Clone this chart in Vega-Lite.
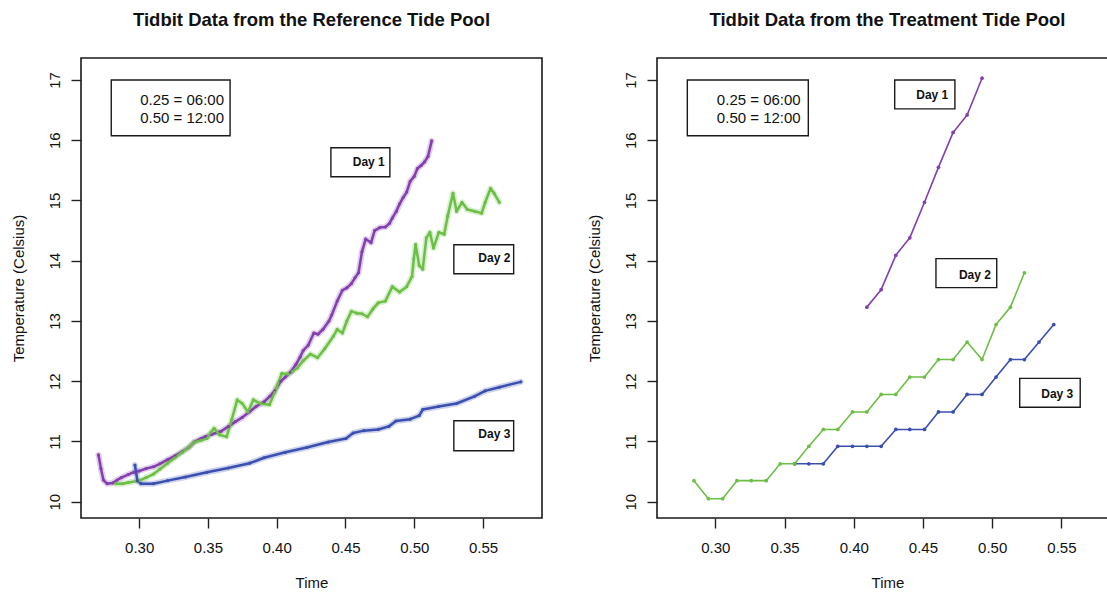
{
  "$schema": "https://vega.github.io/schema/vega-lite/v6.json",
  "padding": {"left": 10, "top": 10, "right": 0, "bottom": 0},
  "spacing": 43,
  "config": {
    "font": "Liberation Sans",
    "view": {"stroke": "#1a1a1a", "strokeWidth": 1.6},
    "axis": {
      "domain": false, "grid": false, "tickColor": "#222222", "tickSize": 10, "tickWidth": 1.4,
      "labelFont": "Liberation Sans", "labelFontSize": 15, "labelColor": "#111111",
      "labelFlush": false, "labelOverlap": false, "labelBound": false,
      "titleFont": "Liberation Sans", "titleFontSize": 15, "titleFontWeight": "normal", "titleColor": "#111111"
    },
    "title": {"font": "Liberation Sans", "fontSize": 18.5, "fontWeight": "bold", "color": "#111111", "anchor": "middle", "baseline": "alphabetic", "offset": 28.5}
  },
  "datasets": {
    "series": [
      {"panel":"ref","day":"Day 1","x":0.2704,"y":10.78},
      {"panel":"ref","day":"Day 1","x":0.2722,"y":10.55},
      {"panel":"ref","day":"Day 1","x":0.2740,"y":10.36},
      {"panel":"ref","day":"Day 1","x":0.2767,"y":10.30},
      {"panel":"ref","day":"Day 1","x":0.2806,"y":10.31},
      {"panel":"ref","day":"Day 1","x":0.2840,"y":10.36},
      {"panel":"ref","day":"Day 1","x":0.2870,"y":10.40},
      {"panel":"ref","day":"Day 1","x":0.2920,"y":10.45},
      {"panel":"ref","day":"Day 1","x":0.2960,"y":10.49},
      {"panel":"ref","day":"Day 1","x":0.3000,"y":10.51},
      {"panel":"ref","day":"Day 1","x":0.3050,"y":10.55},
      {"panel":"ref","day":"Day 1","x":0.3104,"y":10.58},
      {"panel":"ref","day":"Day 1","x":0.3150,"y":10.63},
      {"panel":"ref","day":"Day 1","x":0.3207,"y":10.70},
      {"panel":"ref","day":"Day 1","x":0.3260,"y":10.76},
      {"panel":"ref","day":"Day 1","x":0.3311,"y":10.83},
      {"panel":"ref","day":"Day 1","x":0.3360,"y":10.90},
      {"panel":"ref","day":"Day 1","x":0.3400,"y":10.99},
      {"panel":"ref","day":"Day 1","x":0.3450,"y":11.05},
      {"panel":"ref","day":"Day 1","x":0.3480,"y":11.08},
      {"panel":"ref","day":"Day 1","x":0.3530,"y":11.12},
      {"panel":"ref","day":"Day 1","x":0.3596,"y":11.17},
      {"panel":"ref","day":"Day 1","x":0.3650,"y":11.25},
      {"panel":"ref","day":"Day 1","x":0.3700,"y":11.33},
      {"panel":"ref","day":"Day 1","x":0.3750,"y":11.40},
      {"panel":"ref","day":"Day 1","x":0.3800,"y":11.49},
      {"panel":"ref","day":"Day 1","x":0.3850,"y":11.58},
      {"panel":"ref","day":"Day 1","x":0.3908,"y":11.66},
      {"panel":"ref","day":"Day 1","x":0.3950,"y":11.75},
      {"panel":"ref","day":"Day 1","x":0.3985,"y":11.84},
      {"panel":"ref","day":"Day 1","x":0.4030,"y":12.00},
      {"panel":"ref","day":"Day 1","x":0.4063,"y":12.07},
      {"panel":"ref","day":"Day 1","x":0.4100,"y":12.15},
      {"panel":"ref","day":"Day 1","x":0.4140,"y":12.28},
      {"panel":"ref","day":"Day 1","x":0.4170,"y":12.40},
      {"panel":"ref","day":"Day 1","x":0.4193,"y":12.51},
      {"panel":"ref","day":"Day 1","x":0.4230,"y":12.60},
      {"panel":"ref","day":"Day 1","x":0.4270,"y":12.80},
      {"panel":"ref","day":"Day 1","x":0.4300,"y":12.78},
      {"panel":"ref","day":"Day 1","x":0.4336,"y":12.86},
      {"panel":"ref","day":"Day 1","x":0.4380,"y":13.00},
      {"panel":"ref","day":"Day 1","x":0.4400,"y":13.10},
      {"panel":"ref","day":"Day 1","x":0.4440,"y":13.33},
      {"panel":"ref","day":"Day 1","x":0.4478,"y":13.51},
      {"panel":"ref","day":"Day 1","x":0.4510,"y":13.55},
      {"panel":"ref","day":"Day 1","x":0.4543,"y":13.62},
      {"panel":"ref","day":"Day 1","x":0.4570,"y":13.72},
      {"panel":"ref","day":"Day 1","x":0.4595,"y":13.80},
      {"panel":"ref","day":"Day 1","x":0.4620,"y":14.15},
      {"panel":"ref","day":"Day 1","x":0.4647,"y":14.36},
      {"panel":"ref","day":"Day 1","x":0.4686,"y":14.30},
      {"panel":"ref","day":"Day 1","x":0.4712,"y":14.50},
      {"panel":"ref","day":"Day 1","x":0.4750,"y":14.55},
      {"panel":"ref","day":"Day 1","x":0.4790,"y":14.56},
      {"panel":"ref","day":"Day 1","x":0.4820,"y":14.62},
      {"panel":"ref","day":"Day 1","x":0.4841,"y":14.71},
      {"panel":"ref","day":"Day 1","x":0.4870,"y":14.82},
      {"panel":"ref","day":"Day 1","x":0.4893,"y":14.94},
      {"panel":"ref","day":"Day 1","x":0.4920,"y":15.05},
      {"panel":"ref","day":"Day 1","x":0.4945,"y":15.14},
      {"panel":"ref","day":"Day 1","x":0.4971,"y":15.32},
      {"panel":"ref","day":"Day 1","x":0.5000,"y":15.40},
      {"panel":"ref","day":"Day 1","x":0.5023,"y":15.53},
      {"panel":"ref","day":"Day 1","x":0.5050,"y":15.58},
      {"panel":"ref","day":"Day 1","x":0.5075,"y":15.64},
      {"panel":"ref","day":"Day 1","x":0.5100,"y":15.73},
      {"panel":"ref","day":"Day 1","x":0.5127,"y":15.99},

      {"panel":"ref","day":"Day 2","x":0.2831,"y":10.30},
      {"panel":"ref","day":"Day 2","x":0.2880,"y":10.30},
      {"panel":"ref","day":"Day 2","x":0.2922,"y":10.32},
      {"panel":"ref","day":"Day 2","x":0.3000,"y":10.35},
      {"panel":"ref","day":"Day 2","x":0.3050,"y":10.40},
      {"panel":"ref","day":"Day 2","x":0.3104,"y":10.46},
      {"panel":"ref","day":"Day 2","x":0.3150,"y":10.54},
      {"panel":"ref","day":"Day 2","x":0.3207,"y":10.64},
      {"panel":"ref","day":"Day 2","x":0.3260,"y":10.73},
      {"panel":"ref","day":"Day 2","x":0.3311,"y":10.82},
      {"panel":"ref","day":"Day 2","x":0.3360,"y":10.90},
      {"panel":"ref","day":"Day 2","x":0.3400,"y":10.99},
      {"panel":"ref","day":"Day 2","x":0.3450,"y":11.02},
      {"panel":"ref","day":"Day 2","x":0.3493,"y":11.05},
      {"panel":"ref","day":"Day 2","x":0.3520,"y":11.15},
      {"panel":"ref","day":"Day 2","x":0.3545,"y":11.22},
      {"panel":"ref","day":"Day 2","x":0.3584,"y":11.11},
      {"panel":"ref","day":"Day 2","x":0.3636,"y":11.08},
      {"panel":"ref","day":"Day 2","x":0.3674,"y":11.37},
      {"panel":"ref","day":"Day 2","x":0.3713,"y":11.69},
      {"panel":"ref","day":"Day 2","x":0.3750,"y":11.63},
      {"panel":"ref","day":"Day 2","x":0.3791,"y":11.49},
      {"panel":"ref","day":"Day 2","x":0.3830,"y":11.69},
      {"panel":"ref","day":"Day 2","x":0.3882,"y":11.63},
      {"panel":"ref","day":"Day 2","x":0.3947,"y":11.61},
      {"panel":"ref","day":"Day 2","x":0.3985,"y":11.81},
      {"panel":"ref","day":"Day 2","x":0.4037,"y":12.13},
      {"panel":"ref","day":"Day 2","x":0.4080,"y":12.12},
      {"panel":"ref","day":"Day 2","x":0.4115,"y":12.16},
      {"panel":"ref","day":"Day 2","x":0.4150,"y":12.22},
      {"panel":"ref","day":"Day 2","x":0.4193,"y":12.34},
      {"panel":"ref","day":"Day 2","x":0.4245,"y":12.45},
      {"panel":"ref","day":"Day 2","x":0.4297,"y":12.39},
      {"panel":"ref","day":"Day 2","x":0.4349,"y":12.54},
      {"panel":"ref","day":"Day 2","x":0.4413,"y":12.75},
      {"panel":"ref","day":"Day 2","x":0.4440,"y":12.86},
      {"panel":"ref","day":"Day 2","x":0.4478,"y":12.80},
      {"panel":"ref","day":"Day 2","x":0.4510,"y":13.00},
      {"panel":"ref","day":"Day 2","x":0.4543,"y":13.16},
      {"panel":"ref","day":"Day 2","x":0.4582,"y":13.13},
      {"panel":"ref","day":"Day 2","x":0.4620,"y":13.12},
      {"panel":"ref","day":"Day 2","x":0.4660,"y":13.07},
      {"panel":"ref","day":"Day 2","x":0.4700,"y":13.20},
      {"panel":"ref","day":"Day 2","x":0.4738,"y":13.30},
      {"panel":"ref","day":"Day 2","x":0.4790,"y":13.33},
      {"panel":"ref","day":"Day 2","x":0.4841,"y":13.57},
      {"panel":"ref","day":"Day 2","x":0.4893,"y":13.48},
      {"panel":"ref","day":"Day 2","x":0.4945,"y":13.57},
      {"panel":"ref","day":"Day 2","x":0.4984,"y":13.74},
      {"panel":"ref","day":"Day 2","x":0.4997,"y":14.03},
      {"panel":"ref","day":"Day 2","x":0.5010,"y":14.27},
      {"panel":"ref","day":"Day 2","x":0.5036,"y":13.92},
      {"panel":"ref","day":"Day 2","x":0.5062,"y":13.86},
      {"panel":"ref","day":"Day 2","x":0.5088,"y":14.38},
      {"panel":"ref","day":"Day 2","x":0.5114,"y":14.47},
      {"panel":"ref","day":"Day 2","x":0.5140,"y":14.21},
      {"panel":"ref","day":"Day 2","x":0.5179,"y":14.47},
      {"panel":"ref","day":"Day 2","x":0.5218,"y":14.44},
      {"panel":"ref","day":"Day 2","x":0.5243,"y":14.74},
      {"panel":"ref","day":"Day 2","x":0.5282,"y":15.12},
      {"panel":"ref","day":"Day 2","x":0.5308,"y":14.82},
      {"panel":"ref","day":"Day 2","x":0.5347,"y":14.97},
      {"panel":"ref","day":"Day 2","x":0.5386,"y":14.85},
      {"panel":"ref","day":"Day 2","x":0.5438,"y":14.82},
      {"panel":"ref","day":"Day 2","x":0.5490,"y":14.79},
      {"panel":"ref","day":"Day 2","x":0.5516,"y":14.97},
      {"panel":"ref","day":"Day 2","x":0.5555,"y":15.20},
      {"panel":"ref","day":"Day 2","x":0.5581,"y":15.12},
      {"panel":"ref","day":"Day 2","x":0.5619,"y":14.97},

      {"panel":"ref","day":"Day 3","x":0.2969,"y":10.61},
      {"panel":"ref","day":"Day 3","x":0.2987,"y":10.35},
      {"panel":"ref","day":"Day 3","x":0.3013,"y":10.30},
      {"panel":"ref","day":"Day 3","x":0.3104,"y":10.30},
      {"panel":"ref","day":"Day 3","x":0.3207,"y":10.35},
      {"panel":"ref","day":"Day 3","x":0.3337,"y":10.41},
      {"panel":"ref","day":"Day 3","x":0.3493,"y":10.49},
      {"panel":"ref","day":"Day 3","x":0.3648,"y":10.56},
      {"panel":"ref","day":"Day 3","x":0.3804,"y":10.64},
      {"panel":"ref","day":"Day 3","x":0.3908,"y":10.73},
      {"panel":"ref","day":"Day 3","x":0.4063,"y":10.82},
      {"panel":"ref","day":"Day 3","x":0.4219,"y":10.90},
      {"panel":"ref","day":"Day 3","x":0.4375,"y":10.99},
      {"panel":"ref","day":"Day 3","x":0.4504,"y":11.05},
      {"panel":"ref","day":"Day 3","x":0.4556,"y":11.14},
      {"panel":"ref","day":"Day 3","x":0.4634,"y":11.18},
      {"panel":"ref","day":"Day 3","x":0.4738,"y":11.20},
      {"panel":"ref","day":"Day 3","x":0.4815,"y":11.25},
      {"panel":"ref","day":"Day 3","x":0.4867,"y":11.34},
      {"panel":"ref","day":"Day 3","x":0.4971,"y":11.37},
      {"panel":"ref","day":"Day 3","x":0.5036,"y":11.43},
      {"panel":"ref","day":"Day 3","x":0.5062,"y":11.53},
      {"panel":"ref","day":"Day 3","x":0.5178,"y":11.58},
      {"panel":"ref","day":"Day 3","x":0.5308,"y":11.63},
      {"panel":"ref","day":"Day 3","x":0.5438,"y":11.75},
      {"panel":"ref","day":"Day 3","x":0.5516,"y":11.84},
      {"panel":"ref","day":"Day 3","x":0.5619,"y":11.90},
      {"panel":"ref","day":"Day 3","x":0.5775,"y":11.99},

      {"panel":"trt","day":"Day 1","x":0.4095,"y":13.23},
      {"panel":"trt","day":"Day 1","x":0.4198,"y":13.52},
      {"panel":"trt","day":"Day 1","x":0.4304,"y":14.09},
      {"panel":"trt","day":"Day 1","x":0.4405,"y":14.38},
      {"panel":"trt","day":"Day 1","x":0.4511,"y":14.97},
      {"panel":"trt","day":"Day 1","x":0.4612,"y":15.55},
      {"panel":"trt","day":"Day 1","x":0.4718,"y":16.13},
      {"panel":"trt","day":"Day 1","x":0.4819,"y":16.42},
      {"panel":"trt","day":"Day 1","x":0.4927,"y":17.03},

      {"panel":"trt","day":"Day 3","x":0.3573,"y":10.63},
      {"panel":"trt","day":"Day 3","x":0.3676,"y":10.63},
      {"panel":"trt","day":"Day 3","x":0.3780,"y":10.63},
      {"panel":"trt","day":"Day 3","x":0.3885,"y":10.92},
      {"panel":"trt","day":"Day 3","x":0.3991,"y":10.92},
      {"panel":"trt","day":"Day 3","x":0.4095,"y":10.92},
      {"panel":"trt","day":"Day 3","x":0.4198,"y":10.92},
      {"panel":"trt","day":"Day 3","x":0.4304,"y":11.20},
      {"panel":"trt","day":"Day 3","x":0.4405,"y":11.20},
      {"panel":"trt","day":"Day 3","x":0.4511,"y":11.20},
      {"panel":"trt","day":"Day 3","x":0.4612,"y":11.49},
      {"panel":"trt","day":"Day 3","x":0.4718,"y":11.49},
      {"panel":"trt","day":"Day 3","x":0.4819,"y":11.78},
      {"panel":"trt","day":"Day 3","x":0.4927,"y":11.78},
      {"panel":"trt","day":"Day 3","x":0.5028,"y":12.07},
      {"panel":"trt","day":"Day 3","x":0.5132,"y":12.36},
      {"panel":"trt","day":"Day 3","x":0.5233,"y":12.36},
      {"panel":"trt","day":"Day 3","x":0.5339,"y":12.65},
      {"panel":"trt","day":"Day 3","x":0.5445,"y":12.94},

      {"panel":"trt","day":"Day 2","x":0.2846,"y":10.35},
      {"panel":"trt","day":"Day 2","x":0.2950,"y":10.05},
      {"panel":"trt","day":"Day 2","x":0.3053,"y":10.05},
      {"panel":"trt","day":"Day 2","x":0.3156,"y":10.35},
      {"panel":"trt","day":"Day 2","x":0.3260,"y":10.35},
      {"panel":"trt","day":"Day 2","x":0.3368,"y":10.35},
      {"panel":"trt","day":"Day 2","x":0.3469,"y":10.63},
      {"panel":"trt","day":"Day 2","x":0.3573,"y":10.63},
      {"panel":"trt","day":"Day 2","x":0.3676,"y":10.92},
      {"panel":"trt","day":"Day 2","x":0.3780,"y":11.20},
      {"panel":"trt","day":"Day 2","x":0.3885,"y":11.20},
      {"panel":"trt","day":"Day 2","x":0.3991,"y":11.49},
      {"panel":"trt","day":"Day 2","x":0.4095,"y":11.49},
      {"panel":"trt","day":"Day 2","x":0.4198,"y":11.78},
      {"panel":"trt","day":"Day 2","x":0.4304,"y":11.78},
      {"panel":"trt","day":"Day 2","x":0.4405,"y":12.07},
      {"panel":"trt","day":"Day 2","x":0.4511,"y":12.07},
      {"panel":"trt","day":"Day 2","x":0.4612,"y":12.36},
      {"panel":"trt","day":"Day 2","x":0.4718,"y":12.36},
      {"panel":"trt","day":"Day 2","x":0.4819,"y":12.65},
      {"panel":"trt","day":"Day 2","x":0.4927,"y":12.36},
      {"panel":"trt","day":"Day 2","x":0.5028,"y":12.94},
      {"panel":"trt","day":"Day 2","x":0.5132,"y":13.23},
      {"panel":"trt","day":"Day 2","x":0.5233,"y":13.80}
    ],
    "boxes": [
      {"panel":"ref","x":0.2797,"x2":0.3661,"y":17.0,"y2":16.075},
      {"panel":"ref","x":0.4394,"x2":0.4823,"y":15.876,"y2":15.395},
      {"panel":"ref","x":0.5288,"x2":0.5723,"y":14.266,"y2":13.785},
      {"panel":"ref","x":0.5288,"x2":0.5723,"y":11.344,"y2":10.846},
      {"panel":"trt","x":0.2798,"x2":0.3672,"y":17.0,"y2":16.075},
      {"panel":"trt","x":0.4296,"x2":0.4731,"y":17.0,"y2":16.52},
      {"panel":"trt","x":0.4594,"x2":0.5033,"y":14.035,"y2":13.554},
      {"panel":"trt","x":0.5199,"x2":0.5636,"y":12.048,"y2":11.567}
    ],
    "texts": [
      {"panel":"ref","kind":"legend","x":0.3617,"y":16.59,"label":"0.25 = 06:00"},
      {"panel":"ref","kind":"legend","x":0.3617,"y":16.29,"label":"0.50 = 12:00"},
      {"panel":"ref","kind":"day","x":0.4786,"y":15.577,"label":"Day 1"},
      {"panel":"ref","kind":"day","x":0.5699,"y":13.972,"label":"Day 2"},
      {"panel":"ref","kind":"day","x":0.5699,"y":11.05,"label":"Day 3"},
      {"panel":"trt","kind":"legend","x":0.3617,"y":16.59,"label":"0.25 = 06:00"},
      {"panel":"trt","kind":"legend","x":0.3617,"y":16.29,"label":"0.50 = 12:00"},
      {"panel":"trt","kind":"day","x":0.4683,"y":16.685,"label":"Day 1"},
      {"panel":"trt","kind":"day","x":0.4991,"y":13.70,"label":"Day 2"},
      {"panel":"trt","kind":"day","x":0.5586,"y":11.73,"label":"Day 3"}
    ]
  },
  "hconcat": [
    {
      "title": "Tidbit Data from the Reference Tide Pool",
      "width": 461,
      "height": 460,
      "encoding": {
        "x": {"field": "x", "type": "quantitative",
              "scale": {"domain": [0.2577, 0.5929], "nice": false, "zero": false},
              "axis": {"title": "Time", "values": [0.3, 0.35, 0.4, 0.45, 0.5, 0.55], "format": ".2f",
                       "labelBaseline": "top", "labelPadding": 12, "titleX": 230.5, "titleY": 69, "titleBaseline": "alphabetic"}},
        "y": {"field": "y", "type": "quantitative",
              "scale": {"domain": [9.73, 17.365], "nice": false, "zero": false},
              "axis": {"title": "Temperature (Celsius)", "values": [10, 11, 12, 13, 14, 15, 16, 17], "format": "d",
                       "labelAngle": -90, "labelAlign": "center", "labelBaseline": "alphabetic", "labelPadding": 12,
                       "titleAngle": -90, "titleX": -63, "titleY": 230, "titleBaseline": "middle", "titleAlign": "center"}}
      },
      "layer": [
        {
          "data": {"name": "series"},
          "transform": [{"filter": "datum.panel === 'ref'"}],
          "mark": {"type": "line", "strokeWidth": 6, "opacity": 0.25, "strokeCap": "round", "strokeJoin": "round"},
          "encoding": {"color": {"field": "day", "type": "nominal", "legend": null,
                                  "scale": {"domain": ["Day 1", "Day 2", "Day 3"], "range": ["#843fae", "#6cbf45", "#3a4fb0"]}}}
        },
        {
          "data": {"name": "series"},
          "transform": [{"filter": "datum.panel === 'ref'"}],
          "mark": {"type": "line", "strokeWidth": 2.5, "strokeJoin": "round", "point": {"filled": true, "size": 10}},
          "encoding": {"color": {"field": "day", "type": "nominal", "legend": null,
                                  "scale": {"domain": ["Day 1", "Day 2", "Day 3"], "range": ["#843fae", "#6cbf45", "#3a4fb0"]}}}
        },
        {
          "data": {"name": "boxes"},
          "transform": [{"filter": "datum.panel === 'ref'"}],
          "mark": {"type": "rect", "fill": "white", "stroke": "#1a1a1a", "strokeWidth": 1.4},
          "encoding": {"x2": {"field": "x2"}, "y2": {"field": "y2"}}
        },
        {
          "data": {"name": "texts"},
          "transform": [{"filter": "datum.panel === 'ref' && datum.kind === 'legend'"}],
          "mark": {"type": "text", "align": "right", "baseline": "alphabetic", "fontSize": 15, "font": "Liberation Sans", "color": "#111111"},
          "encoding": {"text": {"field": "label"}}
        },
        {
          "data": {"name": "texts"},
          "transform": [{"filter": "datum.panel === 'ref' && datum.kind === 'day'"}],
          "mark": {"type": "text", "align": "right", "baseline": "alphabetic", "fontSize": 12, "fontWeight": "bold", "font": "Liberation Sans", "color": "#111111"},
          "encoding": {"text": {"field": "label"}}
        }
      ]
    },
    {
      "title": "Tidbit Data from the Treatment Tide Pool",
      "width": 461,
      "height": 460,
      "encoding": {
        "x": {"field": "x", "type": "quantitative",
              "scale": {"domain": [0.2579, 0.5909], "nice": false, "zero": false},
              "axis": {"title": "Time", "values": [0.3, 0.35, 0.4, 0.45, 0.5, 0.55], "format": ".2f",
                       "labelBaseline": "top", "labelPadding": 12, "titleX": 230.5, "titleY": 69, "titleBaseline": "alphabetic"}},
        "y": {"field": "y", "type": "quantitative",
              "scale": {"domain": [9.73, 17.365], "nice": false, "zero": false},
              "axis": {"title": "Temperature (Celsius)", "values": [10, 11, 12, 13, 14, 15, 16, 17], "format": "d",
                       "labelAngle": -90, "labelAlign": "center", "labelBaseline": "alphabetic", "labelPadding": 12,
                       "titleAngle": -90, "titleX": -63, "titleY": 230, "titleBaseline": "middle", "titleAlign": "center"}}
      },
      "layer": [
        {
          "data": {"name": "series"},
          "transform": [{"filter": "datum.panel === 'trt'"}],
          "mark": {"type": "line", "strokeWidth": 1.6, "strokeJoin": "round", "point": {"filled": true, "size": 14}},
          "encoding": {"color": {"field": "day", "type": "nominal", "legend": null,
                                  "scale": {"domain": ["Day 1", "Day 2", "Day 3"], "range": ["#8f5cc0", "#6cbf45", "#3a4fb0"]}}}
        },
        {
          "data": {"name": "boxes"},
          "transform": [{"filter": "datum.panel === 'trt'"}],
          "mark": {"type": "rect", "fill": "white", "stroke": "#1a1a1a", "strokeWidth": 1.4},
          "encoding": {"x2": {"field": "x2"}, "y2": {"field": "y2"}}
        },
        {
          "data": {"name": "texts"},
          "transform": [{"filter": "datum.panel === 'trt' && datum.kind === 'legend'"}],
          "mark": {"type": "text", "align": "right", "baseline": "alphabetic", "fontSize": 15, "font": "Liberation Sans", "color": "#111111"},
          "encoding": {"text": {"field": "label"}}
        },
        {
          "data": {"name": "texts"},
          "transform": [{"filter": "datum.panel === 'trt' && datum.kind === 'day'"}],
          "mark": {"type": "text", "align": "right", "baseline": "alphabetic", "fontSize": 12, "fontWeight": "bold", "font": "Liberation Sans", "color": "#111111"},
          "encoding": {"text": {"field": "label"}}
        }
      ]
    }
  ]
}
